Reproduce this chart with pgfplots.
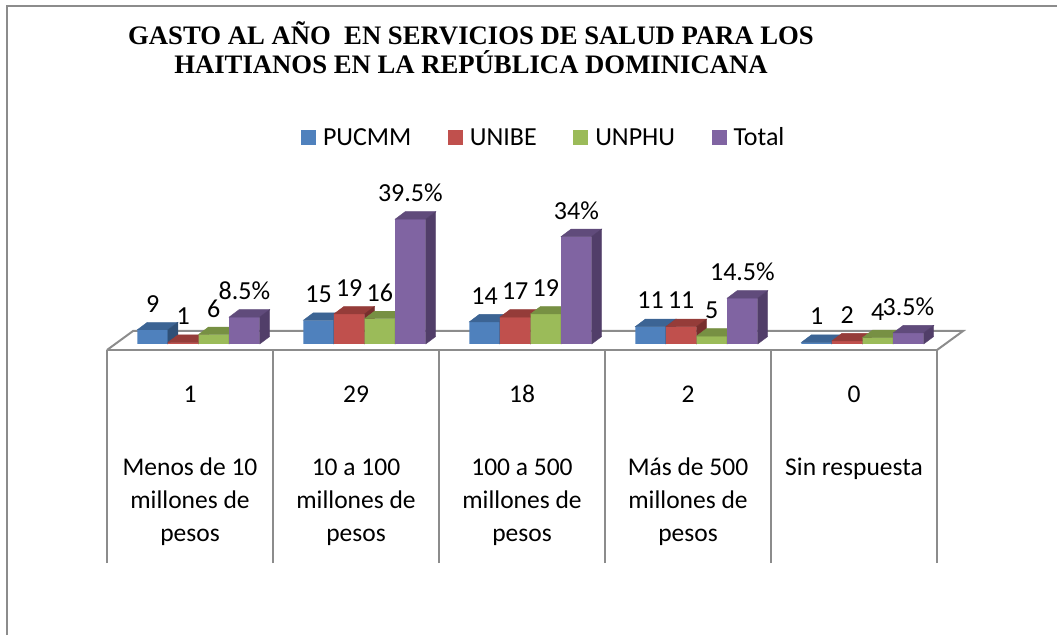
\documentclass[border=0pt]{standalone}
\usepackage{pgfplots}
\pgfplotsset{compat=1.18}
\usepackage{fontspec}
\setmainfont{Carlito}
\newfontfamily\titlefont{Liberation Serif}
\definecolor{bluefr}{HTML}{4F81BD}\definecolor{bluetp}{HTML}{3C6494}\definecolor{bluesd}{HTML}{2F5077}
\definecolor{redfr}{HTML}{C0504D}\definecolor{redtp}{HTML}{953C39}\definecolor{redsd}{HTML}{772F2D}
\definecolor{grefr}{HTML}{9BBB59}\definecolor{gretp}{HTML}{779043}\definecolor{gresd}{HTML}{5F7336}
\definecolor{purfr}{HTML}{8064A2}\definecolor{purtp}{HTML}{604B7B}\definecolor{pursd}{HTML}{513E69}
\definecolor{frame}{HTML}{8C8C8C}
\pgfdeclareplotmark{emptymark}{}
\pgfplotstableread{
x pucmm unibe unphu
0 9 1 6
1 15 19 16
2 14 17 19
3 11 11 5
4 1 2 4
}\counts
\pgfplotstableread{
x total
0 8.5
1 39.5
2 34
3 14.5
4 3.5
}\totals
% side and top faces of one bar, drawn from the point's own value
% #1 bar shift (pt), #2 pt per unit, #3 column, #4 top colour, #5 side colour
\pgfplotsset{
  faces/.style n args={5}{
    forget plot, scatter, only marks, mark=emptymark, mark size=0pt,
    visualization depends on={\thisrow{#3}*#2 \as \barh},
    scatter/@pre marker code/.code={%
      \fill[#4] ({#1-15.3pt},0pt)--({#1-5.3pt},7.5pt)--({#1+25.3pt},7.5pt)--({#1+15.3pt},0pt)--cycle;
      \fill[#5] ({#1+15.3pt},0pt)--({#1+25.3pt},7.5pt)--({#1+25.3pt},{7.5-\barh*1pt})--({#1+15.3pt},{-\barh*1pt})--cycle;
    },
    scatter/@post marker code/.code={},
  },
  front/.style n args={2}{
    ybar, bar width=30.6pt, bar shift=#1, fill=#2, draw=none,
    nodes near coords,
    every node near coord/.append style={anchor=center, xshift=#1, yshift=26pt, text=black, font=\fontsize{26}{30}\selectfont},
  },
  common/.style={
    at={(107pt,285pt)}, anchor=south west, scale only axis,
    x=166pt, xmin=-0.5, xmax=4.5, clip=false,
    axis y line=none, axis x line*=bottom,
    /pgf/number format/assume math mode=true,
    /pgf/number format/.cd, fixed, precision=1, /pgfplots/.cd,
  },
  overlay axis/.style={common, y=1.58pt, ymin=-3.8, ymax=97, axis x line=none},
}
\begin{document}
\begin{tikzpicture}
\path[use as bounding box] (0,0) rectangle (1057pt,635pt);
\draw[frame, line width=2pt] (7pt,0pt)--(7pt,629pt)--(1057pt,629pt);
\node[align=center, font=\titlefont\bfseries\fontsize{26.7}{29}\selectfont] at (471pt,587.5pt)
  {GASTO AL AÑO\ \ EN SERVICIOS DE SALUD PARA LOS\\HAITIANOS EN LA REPÚBLICA DOMINICANA};
% PUCMM, with the table lines, the floor and the legend
\begin{axis}[common,
  y=1.58pt, ymin=-3.8, ymax=97,
  axis line style={frame, line width=2pt, -},
  xtick={0,1,2,3,4},
  xticklabels={
    {\strut 1\\[40pt]Menos de 10\\millones de\\pesos},
    {\strut 29\\[40pt]10 a 100\\millones de\\pesos},
    {\strut 18\\[40pt]100 a 500\\millones de\\pesos},
    {\strut 2\\[40pt]Más de 500\\millones de\\pesos},
    {\strut 0\\[40pt]Sin respuesta\\\strut\\\strut}},
  xticklabel style={align=center, font=\fontsize{25.5}{33}\selectfont, anchor=north, yshift=-25.5pt},
  major tick length=0pt,
  minor xtick={-0.5,0.5,1.5,2.5,3.5,4.5},
  minor tick length=213pt, xtick align=outside,
  every minor tick/.style={frame, line width=2pt, solid},
  legend columns=4,
  legend style={at={(rel axis cs:0,0)}, anchor=west, xshift=194pt, yshift=212.5pt, draw=none, fill=none,
    font=\fontsize{26}{30}\selectfont, inner sep=0pt,outer sep=0pt,
    /tikz/every odd column/.style={column sep=5pt},
    /tikz/every even column/.style={column sep=34.5pt}},
  legend cell align=left,
  legend image code/.code={\fill[#1,draw=none] (0pt,-7.5pt) rectangle (15pt,7.5pt);},
]
\addplot[frame, line width=2pt, forget plot] coordinates {(-0.5,-3.8) (-0.343,8.23) (4.657,8.23) (4.5,-3.8)};
\addplot[faces={-37.4pt}{1.58}{pucmm}{bluetp}{bluesd}] table[x=x,y=pucmm]{\counts};
\addplot[front={-37.4pt}{bluefr}] table[x=x,y=pucmm]{\counts};
\addlegendentry{PUCMM}
\addlegendimage{fill=redfr}\addlegendentry{UNIBE}
\addlegendimage{fill=grefr}\addlegendentry{UNPHU}
\addlegendimage{fill=purfr}\addlegendentry{Total}
\end{axis}
\begin{axis}[overlay axis]
\addplot[faces={-6.8pt}{1.58}{unibe}{redtp}{redsd}] table[x=x,y=unibe]{\counts};
\addplot[front={-6.8pt}{redfr}] table[x=x,y=unibe]{\counts};
\end{axis}
\begin{axis}[overlay axis]
\addplot[faces={23.8pt}{1.58}{unphu}{gretp}{gresd}] table[x=x,y=unphu]{\counts};
\addplot[front={23.8pt}{grefr}] table[x=x,y=unphu]{\counts};
\end{axis}
\begin{axis}[common,
  y=3.16pt, ymin=-1.9, ymax=48.5,
  axis x line=none,
]
\addplot[faces={54.4pt}{3.16}{total}{purtp}{pursd}] table[x=x,y=total]{\totals};
\addplot[front={54.4pt}{purfr},
  nodes near coords={\pgfmathprintnumber{\pgfplotspointmeta}\%}] table[x=x,y=total]{\totals};
\end{axis}
\end{tikzpicture}
\end{document}
